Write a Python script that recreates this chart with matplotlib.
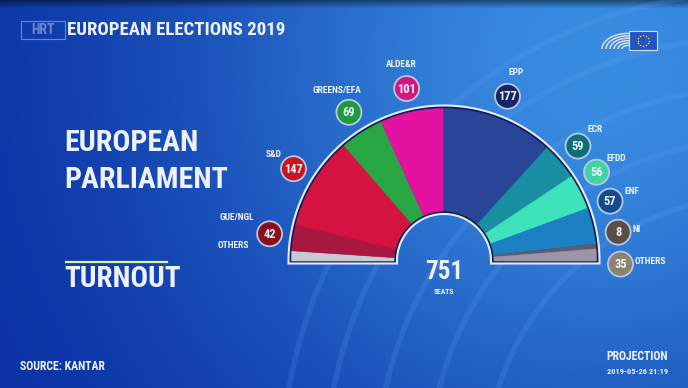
import numpy as np
import matplotlib
matplotlib.use("Agg")
import matplotlib.pyplot as plt
from matplotlib import font_manager as fm
from matplotlib.patches import Wedge, Circle, Polygon, Rectangle, Arc

# Seat projection, European elections 2019 (source: Kantar)
parties = ["GUE/NGL", "S&D", "GREENS/EFA", "ALDE&R", "EPP", "ECR", "EFDD", "ENF", "NI", "OTHERS"]
seats = [42, 147, 69, 101, 177, 59, 56, 57, 8, 35]
# the graphic shows a part of the "others" on the far left of the hemicycle
others_left = 16

wedge_colors = ["#a8173f", "#d4133f", "#29a745", "#e312a0", "#2a4497",
                "#1a8fa3", "#3fe3bb", "#1c80c4", "#5c5c70", "#9c95aa"]
others_left_color = "#c9c9d3"
bubble_colors = ["#8a0f1c", "#c8141e", "#1d9a3a", "#d4177f", "#16246a",
                 "#0d6e7c", "#3fd4a6", "#124c8e", "#5a4f45", "#8c8270"]

# pick the narrowest font we have
names = {f.name for f in fm.fontManager.ttflist}
cond = next((n for n in ["Roboto Condensed", "Open Sans Condensed", "Liberation Sans Narrow",
                         "DejaVu Sans"] if n in names), "DejaVu Sans")
FONT = dict(family=cond, fontweight="bold", fontstretch="condensed", color="#eef2f8")

W, H = 688, 388
fig = plt.figure(figsize=(W / 100, H / 100), dpi=100)
ax = fig.add_axes([0, 0, 1, 1])
ax.set_xlim(0, W)
ax.set_ylim(H, 0)
ax.axis("off")

# background: blue gradient, lighter towards the upper right
yy, xx = np.mgrid[0:H, 0:W]
d2 = (xx - 600) ** 2 + (yy - 60) ** 2
f = np.exp(-d2 / (2 * 300 ** 2))
dark = np.array([0.03, 0.17, 0.63])
light = np.array([0.22, 0.55, 0.88])
bg = dark + (light - dark) * f[..., None]
top = np.clip((8 - yy) / 8, 0, 1)[..., None]
bg = bg * (1 - 0.45 * top)
ax.imshow(bg, extent=[0, W, H, 0], zorder=0, aspect="auto")

# faint background rings
for r in [274, 331, 383, 434, 478]:
    ax.add_patch(Arc((760, 470), 2 * r, 2 * r, theta1=180, theta2=270,
                     color="#6aaaff", alpha=0.16, lw=4, zorder=1))

# hemicycle
cx, cy = 444, 261
R_out, R_in = 152.5, 50


def half_ring(R, r, e):
    t = np.linspace(0, np.pi, 120)
    outer = np.c_[cx + R * np.cos(t), cy - R * np.sin(t)]
    inner = np.c_[cx + r * np.cos(t[::-1]), cy - r * np.sin(t[::-1])]
    pts = np.vstack([[cx + R, cy + e], outer, [cx - R, cy + e], [cx - r, cy + e],
                     inner, [cx + r, cy + e]])
    return pts


ax.add_patch(Polygon(half_ring(155.5, 47, 2.5), closed=True, fc="#101c5a",
                     ec="#e4ecff", lw=1.5, zorder=2))

arc_seats = [others_left] + seats[:-1] + [seats[-1] - others_left]
arc_colors = [others_left_color] + wedge_colors
total = sum(arc_seats)
cum = np.concatenate([[0], np.cumsum(arc_seats)]) / total * 180
for i, c in enumerate(arc_colors):
    ax.add_patch(Wedge((cx, cy), R_out, cum[i] - 180, cum[i + 1] - 180,
                       width=R_out - R_in, fc=c, ec=c, lw=0.4, zorder=3))

# bubbles with seat counts
mid = 180 - (cum[:-1] + cum[1:]) / 2  # screen angle of each arc piece
ang = list(mid[1:])  # parties only
ang[5:] = np.linspace(ang[5], -1, 5)  # spread the crowded right side
rb = 176.5
lab = 6.8
for p, s, a, bc in zip(parties, seats, ang, bubble_colors):
    bx = cx + rb * np.cos(np.radians(a))
    by = cy - rb * np.sin(np.radians(a))
    ax.add_patch(Circle((bx, by), 12.5, fc=bc, ec="#b9c8e0", lw=1.3, zorder=4))
    ax.text(bx, by + 0.5, str(s), ha="center", va="center", fontsize=9, zorder=5, **FONT)
    if a > 160:
        ax.text(bx - 15, by - 16, p, ha="right", va="center", fontsize=lab, **FONT)
    elif a < 15:
        ax.text(bx + 14, by - 3, p, ha="left", va="center", fontsize=lab, **FONT)
    else:
        ax.text(bx + 23 * np.cos(np.radians(a)), by - 23 * np.sin(np.radians(a)) - 2, p,
                ha="center", va="center", fontsize=lab, **FONT)

# label for the left "others" piece (no bubble)
a0 = np.radians(mid[0])
ax.text(cx + rb * np.cos(a0) - 18, cy - rb * np.sin(a0) - 10, "OTHERS",
        ha="right", va="center", fontsize=lab, **FONT)

ax.text(cx, 272, str(sum(seats)), ha="center", va="center", fontsize=18, **FONT)
ax.text(cx, 291, "SEATS", ha="center", va="center", fontsize=5.5, **FONT)

# headings
ax.text(67, 30, "EUROPEAN ELECTIONS 2019", ha="left", va="center", fontsize=13.5, **FONT)
ax.text(64, 143, "EUROPEAN", ha="left", va="center", fontsize=21.5, **FONT)
ax.text(64, 180, "PARLIAMENT", ha="left", va="center", fontsize=21.5, **FONT)
ax.plot([66, 167], [261.5, 261.5], color="#e6f0a6", lw=1.6, zorder=3)
ax.text(64, 279, "TURNOUT", ha="left", va="center", fontsize=21, **FONT)
ax.text(20, 367, "SOURCE: KANTAR", ha="left", va="center", fontsize=8.5, **FONT)
ax.text(668, 356, "PROJECTION", ha="right", va="center", fontsize=8.5, **FONT)
ax.text(668, 371, "2019-05-26 21:19", ha="right", va="center", fontsize=6, **FONT)

# broadcaster mark, top left
ax.add_patch(Rectangle((21, 21), 44, 18, fc="none", ec="#c8d4ee", lw=0.8, alpha=0.5, zorder=3))
ax.text(43, 30, "HRT", ha="center", va="center", fontsize=10, alpha=0.45,
        family=cond, fontweight="bold", color="#dfe6f5")

# European Parliament logo, top right
for r in [6, 10, 14, 18, 22, 26]:
    ax.add_patch(Arc((628, 49), 2 * r, 1.2 * r, theta1=180, theta2=360,
                     color="#d8dde6", lw=1.1, zorder=3))
ax.add_patch(Rectangle((629, 31), 28, 19, fc="#2453c4", ec="#d8dde6", lw=0.8, zorder=4))
t = np.linspace(0, 2 * np.pi, 13)[:-1]
ax.scatter(643 + 5.5 * np.cos(t), 40.5 + 5.5 * np.sin(t), s=1.2, c="#ffd83a", zorder=5, lw=0)

fig.savefig("out.png", dpi=100)
